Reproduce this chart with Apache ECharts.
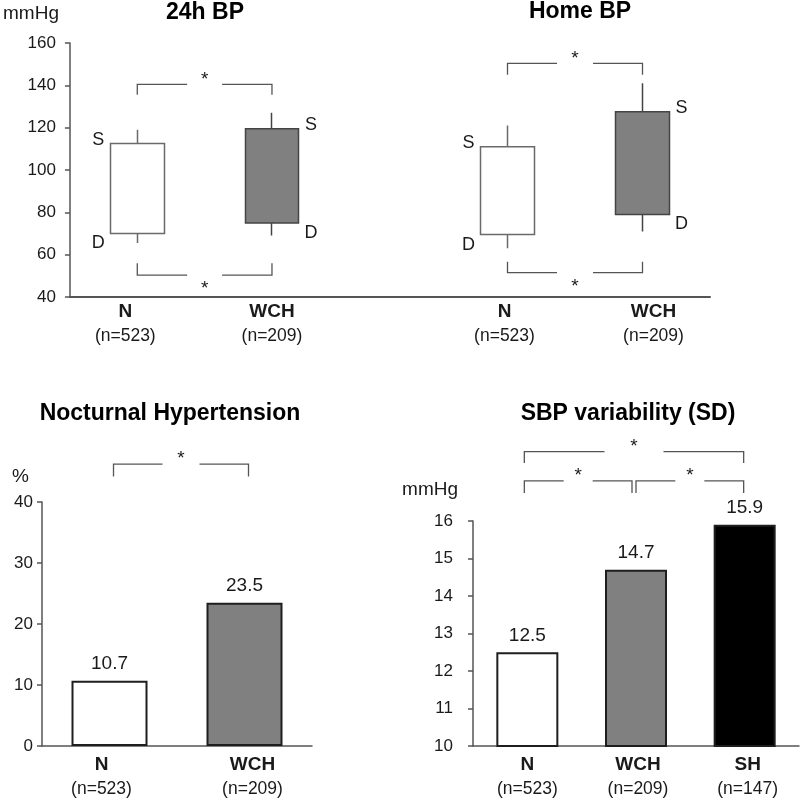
<!DOCTYPE html>
<html><head><meta charset="utf-8">
<script src="https://cdn.jsdelivr.net/npm/echarts@6/dist/echarts.min.js"></script>
<style>html,body{margin:0;padding:0;background:#fff}#c{width:800px;height:798px}</style>
</head><body><div id="c"></div>
<script>
// ---------- data ----------
const bpCategories = ['N', 'WCH'];
const bpGroupSizes = ['(n=523)', '(n=209)'];
const bp24Systolic = [112.5, 119.5];
const bp24Diastolic = [70, 75];
const bp24Upper = [119, 127];
const bp24Lower = [65.5, 69];
const homeSystolic = [111, 127.5];
const homeDiastolic = [69.5, 79];
const homeUpper = [121, 141];
const homeLower = [63, 71];
const bpTicks = [40, 60, 80, 100, 120, 140, 160];

const nhCategories = ['N', 'WCH'];
const nhGroupSizes = ['(n=523)', '(n=209)'];
const nhValues = [10.7, 23.5];
const nhTicks = [0, 10, 20, 30, 40];

const sdCategories = ['N', 'WCH', 'SH'];
const sdGroupSizes = ['(n=523)', '(n=209)', '(n=147)'];
const sdValues = [12.5, 14.7, 15.9];
const sdTicks = [10, 11, 12, 13, 14, 15, 16];

// significance brackets: [from category, to category, bracket line value, leg end value]
const bp24Brackets = [['N', 'WCH', 140.5, 135.5], ['N', 'WCH', 50.3, 56]];
const homeBrackets = [['N', 'WCH', 150.4, 145], ['N', 'WCH', 51.5, 56.7]];
const nhBrackets = [['N', 'WCH', 46.2, 44.2]];
const sdBrackets = [['N', 'SH', 17.85, 17.55], ['N', 'WCH', 17.07, 16.75], ['WCH', 'SH', 17.07, 16.75]];

// ---------- styles ----------
const FONT = '"Liberation Sans", Arial, sans-serif';
const AXIS = '#555';
const TEXT = '#1a1a1a';
const fills = { N: '#ffffff', WCH: '#808080', SH: '#000000' };
const boxBorders = { N: '#6a6a6a', WCH: '#444444' };
// bracket gap half widths (px) and leg pixel insets
const bp24Gaps = [17.5, 17.5];
const homeGaps = [18, 18];
const nhGaps = [18.5];
const sdGaps = [29.5, 14.5, 14.5];
const nhLegInsets = [[4, 4]];
const sdLegInsets = [[-3, -1], [-3, -4], [0, -1]];
// x label shifts (px)
const bp24Shift = [-12, 0, 0];
const homeShift = [0, -3, 11];
const nhShift = [-8, 8];
const sdShift = [0, 2, 3];

function xLabel(cats, sizes, shifts, margin) {
  const rich = {};
  cats.forEach((c, i) => {
    const s = shifts[i] || 0;
    const pad = s < 0 ? [0, -2 * s, 0, 0] : [0, 0, 0, 2 * s];
    rich['b' + i] = { fontFamily: FONT, fontSize: 19, fontWeight: 'bold', color: TEXT, lineHeight: 24, padding: pad };
    rich['n' + i] = { fontFamily: FONT, fontSize: 17.5, color: TEXT, lineHeight: 24, padding: pad };
  });
  return {
    interval: 0, margin: margin, rich: rich,
    formatter: (v, i) => {
      if (!v) return '';
      const k = sizes.length < cats.length ? i - (cats.length - sizes.length) * (cats[0] === '' ? 1 : 0) : i;
      return `{b${i}|${v}}\n{n${i}|${sizes[k]}}`;
    }
  };
}

function xAxis(gridIndex, data, sizes, shifts, margin, lineWidth) {
  return {
    type: 'category', gridIndex, data,
    axisLine: { lineStyle: { color: AXIS, width: lineWidth || 1.5 } },
    axisTick: { show: false },
    axisLabel: xLabel(data, sizes, shifts, margin),
    splitLine: { show: false }
  };
}

function yAxis(gridIndex, ticks, show, name, namePad, nameGap, margin) {
  return {
    type: 'value', gridIndex, show,
    min: ticks[0], max: ticks[ticks.length - 1], interval: ticks[1] - ticks[0],
    axisLine: { show: true, lineStyle: { color: AXIS, width: 1.5 } },
    axisTick: { show: true, length: 5, lineStyle: { color: AXIS, width: 1.5 } },
    axisLabel: { fontFamily: FONT, fontSize: 17, color: TEXT, margin: margin },
    splitLine: { show: false },
    name: name, nameLocation: 'end', nameGap: nameGap,
    nameTextStyle: { fontFamily: FONT, fontSize: 19, color: TEXT, align: 'right', padding: namePad }
  };
}

function bracketSeries(axisIdx, brackets, gaps, insets) {
  return {
    type: 'custom', xAxisIndex: axisIdx, yAxisIndex: axisIdx, clip: false, silent: true, z: 10,
    encode: { x: [0, 1], y: [2, 3] },
    data: brackets,
    renderItem: (params, api) => {
      const i = params.dataIndex;
      const ins = insets ? insets[i] : [0, 0];
      const a = api.coord([api.value(0), api.value(2)]);
      const b = api.coord([api.value(1), api.value(2)]);
      const legY = api.coord([api.value(0), api.value(3)])[1];
      const x1 = a[0] + ins[0], x2 = b[0] + ins[1], y = a[1];
      const mid = (x1 + x2) / 2, g = gaps[i];
      const above = legY > y;
      const ls = { stroke: AXIS, lineWidth: 1.3, fill: null };
      return {
        type: 'group', children: [
          { type: 'polyline', shape: { points: [[x1, legY], [x1, y], [mid - g, y]] }, style: ls },
          { type: 'polyline', shape: { points: [[mid + g, y], [x2, y], [x2, legY]] }, style: ls },
          { type: 'text', style: { text: '*', x: mid, y: above ? y - 5 : y + 14, align: 'center', verticalAlign: 'middle', fontFamily: FONT, fontSize: 19, fill: TEXT } }
        ]
      };
    }
  };
}

function boxSeries(axisIdx, sys, dia, lo, hi) {
  return {
    type: 'candlestick', xAxisIndex: axisIdx, yAxisIndex: axisIdx, barWidth: 54, silent: true,
    encode: { x: 0, y: [1, 2, 3, 4] },
    data: bpCategories.map((c, i) => ({
      value: [c, dia[i], sys[i], lo[i], hi[i]],
      itemStyle: { color: fills[c], borderColor: boxBorders[c], borderWidth: 1.5, color0: fills[c], borderColor0: boxBorders[c] }
    }))
  };
}

function sdLabelSeries(axisIdx, sys, dia) {
  return {
    type: 'custom', xAxisIndex: axisIdx, yAxisIndex: axisIdx, clip: false, silent: true,
    encode: { x: 0, y: [1, 2] },
    data: bpCategories.map((c, i) => [c, sys[i], dia[i]]),
    renderItem: (params, api) => {
      const side = params.dataIndex === 0 ? -1 : 1;
      const t = api.coord([api.value(0), api.value(1)]);
      const d = api.coord([api.value(0), api.value(2)]);
      const x = t[0] + side * (27 + 12);
      const st = { align: 'center', verticalAlign: 'middle', fontFamily: FONT, fontSize: 18, fill: TEXT };
      return {
        type: 'group', children: [
          { type: 'text', style: Object.assign({ text: 'S', x: x, y: t[1] - 4 }, st) },
          { type: 'text', style: Object.assign({ text: 'D', x: x, y: d[1] + 10 }, st) }
        ]
      };
    }
  };
}

function barSeries(axisIdx, cats, values, width) {
  return {
    type: 'bar', xAxisIndex: axisIdx, yAxisIndex: axisIdx, barWidth: width, silent: true,
    data: cats.map((c, i) => ({ value: values[i], itemStyle: { color: fills[c], borderColor: '#1e1e1e', borderWidth: 2 } })),
    label: { show: true, position: 'top', distance: 7, fontFamily: FONT, fontSize: 19, color: TEXT, formatter: p => String(p.value) }
  };
}

function title(text, x, y) {
  return { type: 'text', x: x, y: y, style: { text: text, align: 'center', verticalAlign: 'middle', fontFamily: FONT, fontSize: 23, fontWeight: 'bold', fill: '#000' } };
}

const option = {
  animation: false,
  backgroundColor: '#fff',
  grid: [
    { left: 69, top: 43, width: 405, height: 254 },
    { left: 305, top: 43, width: 405, height: 254 },
    { left: 42, top: 502, width: 270, height: 245 },
    { left: 473, top: 521, width: 326, height: 226 }
  ],
  xAxis: [
    xAxis(0, bpCategories.concat(['']), bpGroupSizes, bp24Shift, 3, 2),
    xAxis(1, [''].concat(bpCategories), bpGroupSizes, homeShift, 3, 2),
    xAxis(2, nhCategories, nhGroupSizes, nhShift, 7),
    xAxis(3, sdCategories, sdGroupSizes, sdShift, 7)
  ],
  yAxis: [
    yAxis(0, bpTicks, true, 'mmHg', [0, 11, 0, 0], 20, 14),
    yAxis(1, bpTicks, false, '', [0, 0, 0, 0], 0, 14),
    yAxis(2, nhTicks, true, '%', [0, 13, 0, 0], 16, 9),
    yAxis(3, sdTicks, true, 'mmHg', [0, 15, 0, 0], 22, 20)
  ],
  series: [
    boxSeries(0, bp24Systolic, bp24Diastolic, bp24Lower, bp24Upper),
    boxSeries(1, homeSystolic, homeDiastolic, homeLower, homeUpper),
    sdLabelSeries(0, bp24Systolic, bp24Diastolic),
    sdLabelSeries(1, homeSystolic, homeDiastolic),
    bracketSeries(0, bp24Brackets, bp24Gaps),
    bracketSeries(1, homeBrackets, homeGaps),
    barSeries(2, nhCategories, nhValues, 76),
    barSeries(3, sdCategories, sdValues, 62),
    bracketSeries(2, nhBrackets, nhGaps, nhLegInsets),
    bracketSeries(3, sdBrackets, sdGaps, sdLegInsets)
  ],
  graphic: [
    title('24h BP', 205, 13),
    title('Home BP', 580, 12),
    title('Nocturnal Hypertension', 170, 414),
    title('SBP variability (SD)', 628, 414)
  ]
};

const chart = echarts.init(document.getElementById('c'), null, { renderer: 'canvas' });
chart.setOption(option);
</script>
</body></html>
